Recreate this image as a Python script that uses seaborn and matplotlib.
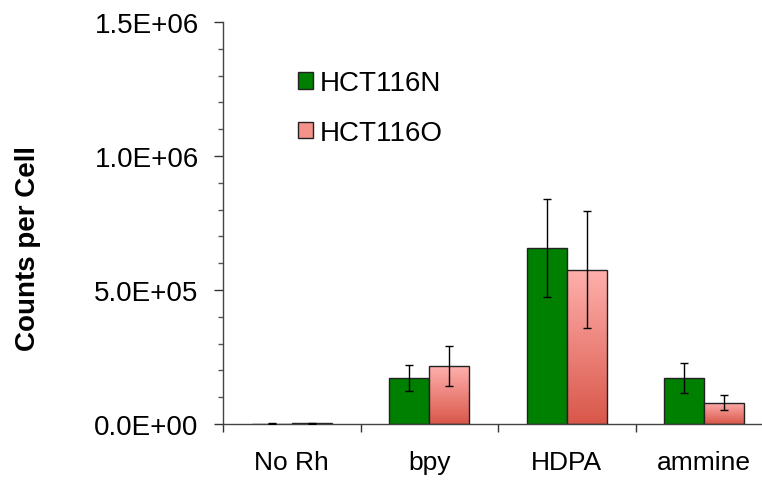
import numpy as np
import pandas as pd
import seaborn as sns
import matplotlib.pyplot as plt
from matplotlib.colors import LinearSegmentedColormap
from matplotlib.patches import Patch

# Data
conditions = ['No Rh', 'bpy', 'HDPA', 'ammine']
lines = ['HCT116N', 'HCT116O']
counts_n = [1500, 172000, 657000, 172000]
counts_o = [2500, 216000, 575000, 79000]
err_n = [800, 47000, 183000, 56000]
err_o = [1000, 75000, 218000, 28000]
yticks = [0, 5e5, 1e6, 1.5e6]
ytick_labels = ['0.0E+00', '5.0E+05', '1.0E+06', '1.5E+06']


def main() -> None:
    sns.set_theme(style='white')
    plt.rcParams['font.family'] = ['Liberation Sans', 'DejaVu Sans']
    plt.rcParams['text.color'] = 'black'
    plt.rcParams['axes.labelcolor'] = 'black'
    plt.rcParams['xtick.color'] = 'black'
    plt.rcParams['ytick.color'] = 'black'

    df = pd.DataFrame({
        'cond': conditions * 2,
        'line': [lines[0]] * 4 + [lines[1]] * 4,
        'counts': counts_n + counts_o,
        'err': err_n + err_o,
    })

    fig = plt.figure(figsize=(7.62, 4.85), dpi=100)
    ax = fig.add_axes([0.2927, 0.1237, 0.7073, 0.8289])

    sns.barplot(data=df, x='cond', y='counts', hue='line', order=conditions,
                hue_order=lines, palette=['#008000', '#f08a84'], saturation=1,
                errorbar=None, width=0.58, edgecolor='#222222', linewidth=1.0,
                legend=False, ax=ax)

    # gradient fill for the pink bars
    pink = LinearSegmentedColormap.from_list('pink', ['#d9574a', '#ffb0ad'])
    grad = np.linspace(0, 1, 256).reshape(-1, 1)
    for bar in ax.containers[1]:
        x0, y0 = bar.get_x(), bar.get_y()
        w, h = bar.get_width(), bar.get_height()
        im = ax.imshow(grad, cmap=pink, origin='lower', aspect='auto',
                       extent=[x0, x0 + w, y0, y0 + max(h, 1)], zorder=bar.get_zorder())
        im.set_clip_path(bar)
        bar.set_facecolor('none')
        bar.set_zorder(bar.get_zorder() + 0.1)

    # error bars
    for cont, errs in zip(ax.containers, [err_n, err_o]):
        xs = [b.get_x() + b.get_width() / 2 for b in cont]
        ys = [b.get_height() for b in cont]
        ax.errorbar(xs, ys, yerr=errs, fmt='none', ecolor='black',
                    elinewidth=1.0, capsize=2.8, capthick=1.0, zorder=5)

    ax.set_xlim(-0.5, 3.42)
    ax.set_ylim(0, 1.5e6)
    ax.set_yticks(yticks)
    ax.set_yticklabels(ytick_labels, fontsize=20)
    ax.set_yticks(np.arange(0, 1.5e6 + 1, 1e5), minor=True)
    ax.set_xticks(range(len(conditions)))
    ax.set_xticklabels(conditions, fontsize=19)
    ax.set_xticks(np.arange(-0.5, 3.5, 1), minor=True)
    ax.tick_params(axis='x', which='major', length=0, pad=19)
    ax.tick_params(axis='x', which='minor', length=6, width=1.0, direction='out',
                   color='#333333', bottom=True)
    ax.tick_params(axis='y', which='major', length=6.5, width=1.0, direction='out',
                   color='#333333', left=True, pad=11)
    ax.tick_params(axis='y', which='minor', length=3.6, width=1.0, direction='out',
                   color='#555555', left=True)
    ax.set_xlabel('')
    ax.set_ylabel('Counts per Cell', fontsize=20, fontweight='bold')
    ax.yaxis.set_label_coords(-0.337, 0.44)

    for s in ['top', 'right']:
        ax.spines[s].set_visible(False)
    for s in ['left', 'bottom']:
        ax.spines[s].set_color('#444444')
        ax.spines[s].set_linewidth(1.0)

    handles = [Patch(facecolor='#008000', edgecolor='#222222'),
               Patch(facecolor='#f5928c', edgecolor='#222222')]
    ax.legend(handles, lines, loc='upper left', bbox_to_anchor=(0.139, 0.88),
              frameon=False, fontsize=20, handlelength=0.55, handleheight=0.55,
              handletextpad=0.25, labelspacing=0.85, borderpad=0, borderaxespad=0)

    fig.savefig('out.png', dpi=100)


if __name__ == "__main__":
    main()
